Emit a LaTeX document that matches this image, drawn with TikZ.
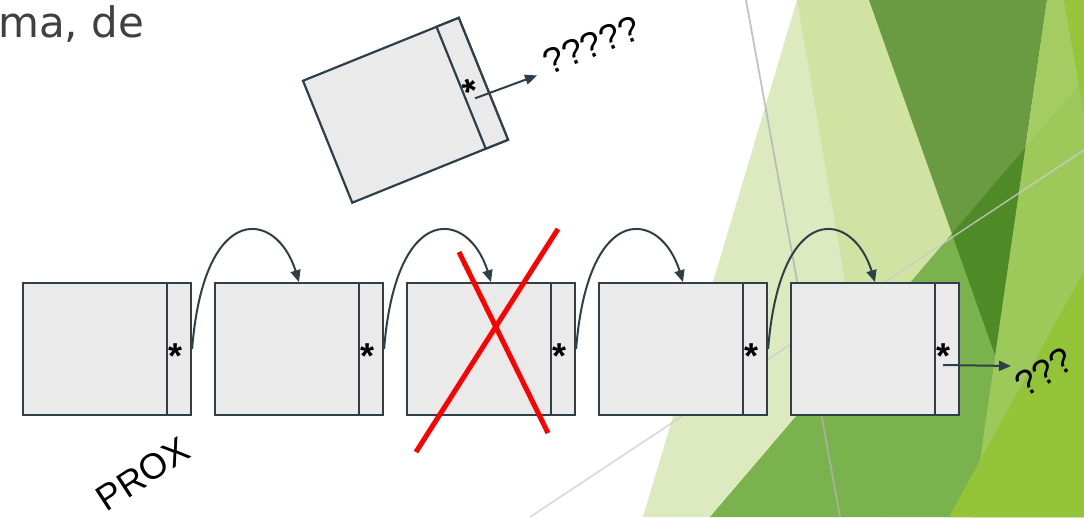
\documentclass[tikz,border=0pt]{standalone}
\usepackage{fontspec}
\setmainfont{Liberation Sans}
\newfontfamily\titlefont{DejaVu Sans}
\usetikzlibrary{positioning,arrows.meta}
\definecolor{slate}{HTML}{2F3F49}
\definecolor{cellgray}{HTML}{EAEAEA}
\definecolor{titlegray}{HTML}{404040}
\definecolor{paleA}{HTML}{DDEAC0}
\definecolor{paleB}{HTML}{D0E3A2}
\definecolor{midC}{HTML}{7AB34D}
\definecolor{darkD}{HTML}{6A9A41}
\definecolor{deepD}{HTML}{4E8A25}
\definecolor{lightE}{HTML}{A3CD63}
\definecolor{lightEC}{HTML}{9DC95B}
\definecolor{limeF}{HTML}{97C43A}
\definecolor{limeG}{HTML}{93C437}
\definecolor{crossred}{HTML}{FF0000}

\begin{document}
\begin{tikzpicture}[x=1pt, y=1pt, node distance=21.8pt,
  rec/.style={draw=slate, fill=cellgray, line width=2.2pt, minimum width=168pt, minimum height=131.5pt, inner sep=0pt},
  ptr/.style={draw=slate, fill=cellgray, line width=2.2pt, minimum width=24pt, minimum height=131.5pt, inner sep=0pt, anchor=north east, font=\fontsize{36}{36}\selectfont\bfseries, text height=39pt, text depth=0pt, execute at begin node=\hspace*{-7pt}},
  link/.style={draw=slate, line width=2pt, -{Triangle[length=12pt,width=10pt]}},
  qm/.style={font=\fontsize{36}{36}\selectfont, inner sep=0pt}]
\useasboundingbox (0,0) rectangle (1084,-517);
\fill[paleA] (797,0) -- (1084,0) -- (1084,-517) -- (643,-517) -- cycle;
\fill[paleB] (797,0) -- (1084,0) -- (1084,-517) -- (885,-517) -- cycle;
\fill[midC] (710,-517) -- (1084,-79) -- (1084,-517) -- cycle;
\fill[darkD] (869,0) -- (1047,0) -- (995,-355) -- cycle;
\fill[lightE] (1047,0) -- (1084,0) -- (1084,-517) -- (972,-517) -- cycle;
\begin{scope}
\clip (710,-517) -- (1084,-79) -- (1084,-517) -- cycle;
\fill[deepD] (869,0) -- (1047,0) -- (995,-355) -- cycle;
\fill[lightEC] (1047,0) -- (1084,0) -- (1084,-517) -- (972,-517) -- cycle;
\end{scope}
\fill[limeF] (1064,0) -- (1084,0) -- (1084,-115) -- cycle;
\fill[limeG] (949,-517) -- (1084,-271) -- (1084,-517) -- cycle;
\draw[gray!60, line width=1.8pt, opacity=0.8] (746,0) -- (840,-517);
\draw[gray!40, line width=1.5pt, opacity=0.8] (530,-517) -- (1084,-150);

\node[anchor=base west, font=\titlefont\fontsize{42}{42}\selectfont, text=titlegray, inner sep=0pt] (ttl) at (-2,-37) {ma, de};

\node[rec] (n1) at (107,-349) {};
\node[rec, right=of n1] (n2) {};
\node[rec, right=of n2] (n3) {};
\node[rec, right=of n3] (n4) {};
\node[rec, right=of n4] (n5) {};
\foreach \i in {1,...,5}
  \node[ptr] (p\i) at (n\i.north east) {*};
\foreach \i/\j in {1/2,2/3,3/4,4/5}
  \draw[link] (p\i.east) .. controls +(12,150) and +(-22,72) .. (n\j.north);
\coordinate (s5) at (943,-365);
\coordinate (e5) at (1011,-366);
\draw[link] (s5) -- (e5);
\node[qm, rotate=33] (q5) at (1044,-372) {???};

\begin{scope}[shift={(405.5,-110.25)}, rotate=22, transform shape]
\node[rec] (n0) at (0,0) {};
\node[ptr] (p0) at (n0.north east) {*};
\coordinate (s0) at (69,-15);
\coordinate (e0) at (135,-17);
\draw[link] (s0) -- (e0);
\node[qm] (q0) at (197,-9) {?????};
\end{scope}

\draw[crossred, line width=5pt] (416,-452) -- (558,-229);
\draw[crossred, line width=5pt] (459,-252) -- (548,-433);

\node[qm, rotate=33] (prox) at (143,-474) {PROX};
\end{tikzpicture}
\end{document}
